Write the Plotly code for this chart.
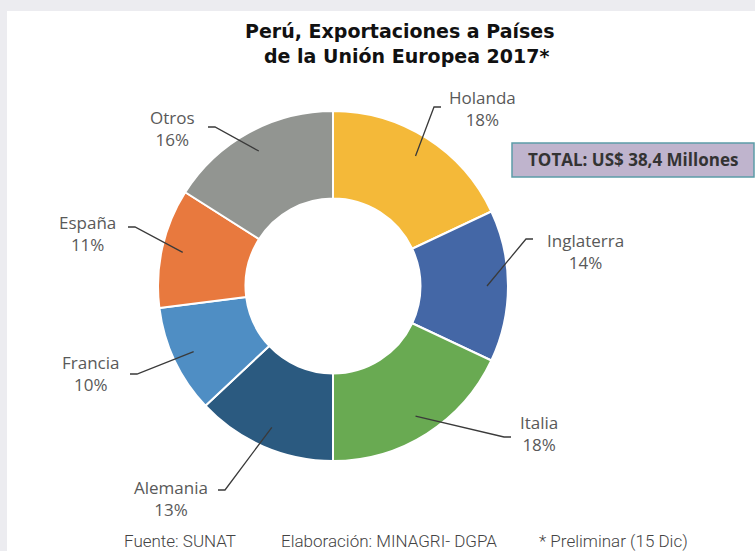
import numpy as np
import plotly.graph_objects as go

W, H = 755, 551

countries = ["Holanda", "Inglaterra", "Italia", "Alemania", "Francia", "España", "Otros"]
shares = [18, 14, 18, 13, 10, 11, 16]
colors = ["#F4B939", "#4467A6", "#69AA52", "#2B5A80", "#4F8EC4", "#E8793E", "#929591"]

title_lines = ["Perú, Exportaciones a Países", "de la Unión Europea 2017*"]
total_text = "TOTAL: US$ 38,4 Millones"
footer = ["Fuente: SUNAT", "Elaboración: MINAGRI- DGPA", "* Preliminar (15 Dic)"]

# layout (pixels)
cx, cy, R = 333, 286, 175
# label text centre and end of the leader-line stub
label_xy = [(483, 108), (585, 251), (539, 433), (171, 498), (90, 373), (87, 233), (172, 128)]
stub_xy = [(441, 107), (533, 239), (511, 437), (218, 490), (130, 374), (128, 227), (208, 127)]


def px(x, y):
    return x / W, 1 - y / H


fig = go.Figure()
fig.add_trace(go.Pie(
    values=shares, labels=countries, sort=False, direction="clockwise", rotation=0,
    hole=0.5, textinfo="none", showlegend=False,
    marker=dict(colors=colors, line=dict(color="white", width=2)),
    domain=dict(x=[(cx - R) / W, (cx + R) / W], y=[1 - (cy + R) / H, 1 - (cy - R) / H]),
))

shapes = []
# page frame like the slide background
shapes.append(dict(type="rect", xref="paper", yref="paper", x0=px(7, 0)[0], x1=1,
                   y0=0, y1=px(0, 11)[1], fillcolor="white", line_width=0, layer="below"))

annotations = []


def note(x, y, text, font):
    fx, fy = px(x, y)
    annotations.append(dict(x=fx, y=fy, xref="paper", yref="paper", showarrow=False,
                            xanchor="center", yanchor="middle", align="center",
                            text=text, font=font))


tot = sum(shares)
cum = 0
for name, v, (lx, ly), (sx, sy) in zip(countries, shares, label_xy, stub_xy):
    mid = np.deg2rad((cum + v / 2) / tot * 360)
    cum += v
    r0 = 0.88 * R
    x0, y0 = cx + r0 * np.sin(mid), cy - r0 * np.cos(mid)
    side = 1 if lx > sx else -1
    ex = sx - side * 7
    p0, p1, p2 = px(x0, y0), px(ex, sy), px(sx, sy)
    shapes.append(dict(type="path", xref="paper", yref="paper",
                       path=f"M {p0[0]},{p0[1]} L {p1[0]},{p1[1]} L {p2[0]},{p2[1]}",
                       line=dict(color="#3a3a3a", width=1.3)))
    note(lx, ly, f"{name}<br>{v}%", dict(family="Open Sans", size=17, color="#595959"))

# total box
bx0, by0 = px(512, 143)
bx1, by1 = px(754, 177)
shapes.append(dict(type="rect", xref="paper", yref="paper", x0=bx0, x1=bx1, y0=by1, y1=by0,
                   fillcolor="#BFB4CD", line=dict(color="#5C9CA8", width=1.5)))
note(633, 160, f"<b>{total_text}</b>", dict(family="Open Sans", size=17, color="#333333"))

for t, x, y in zip(title_lines, [400, 407], [31, 56]):
    note(x, y, f"<b>{t}</b>", dict(family="DejaVu Sans", size=19, color="#111111"))

for t, x in zip(footer, [180, 389, 613]):
    note(x, 541, t, dict(family="Roboto", size=17, color="#444444", weight=300))

fig.update_layout(
    width=W, height=H, margin=dict(l=0, r=0, t=0, b=0),
    paper_bgcolor="#ececf0", plot_bgcolor="white",
    shapes=shapes, annotations=annotations,
)

fig.write_html("out.html", config={"displayModeBar": False},
               post_script="document.body.style.margin='0';")
